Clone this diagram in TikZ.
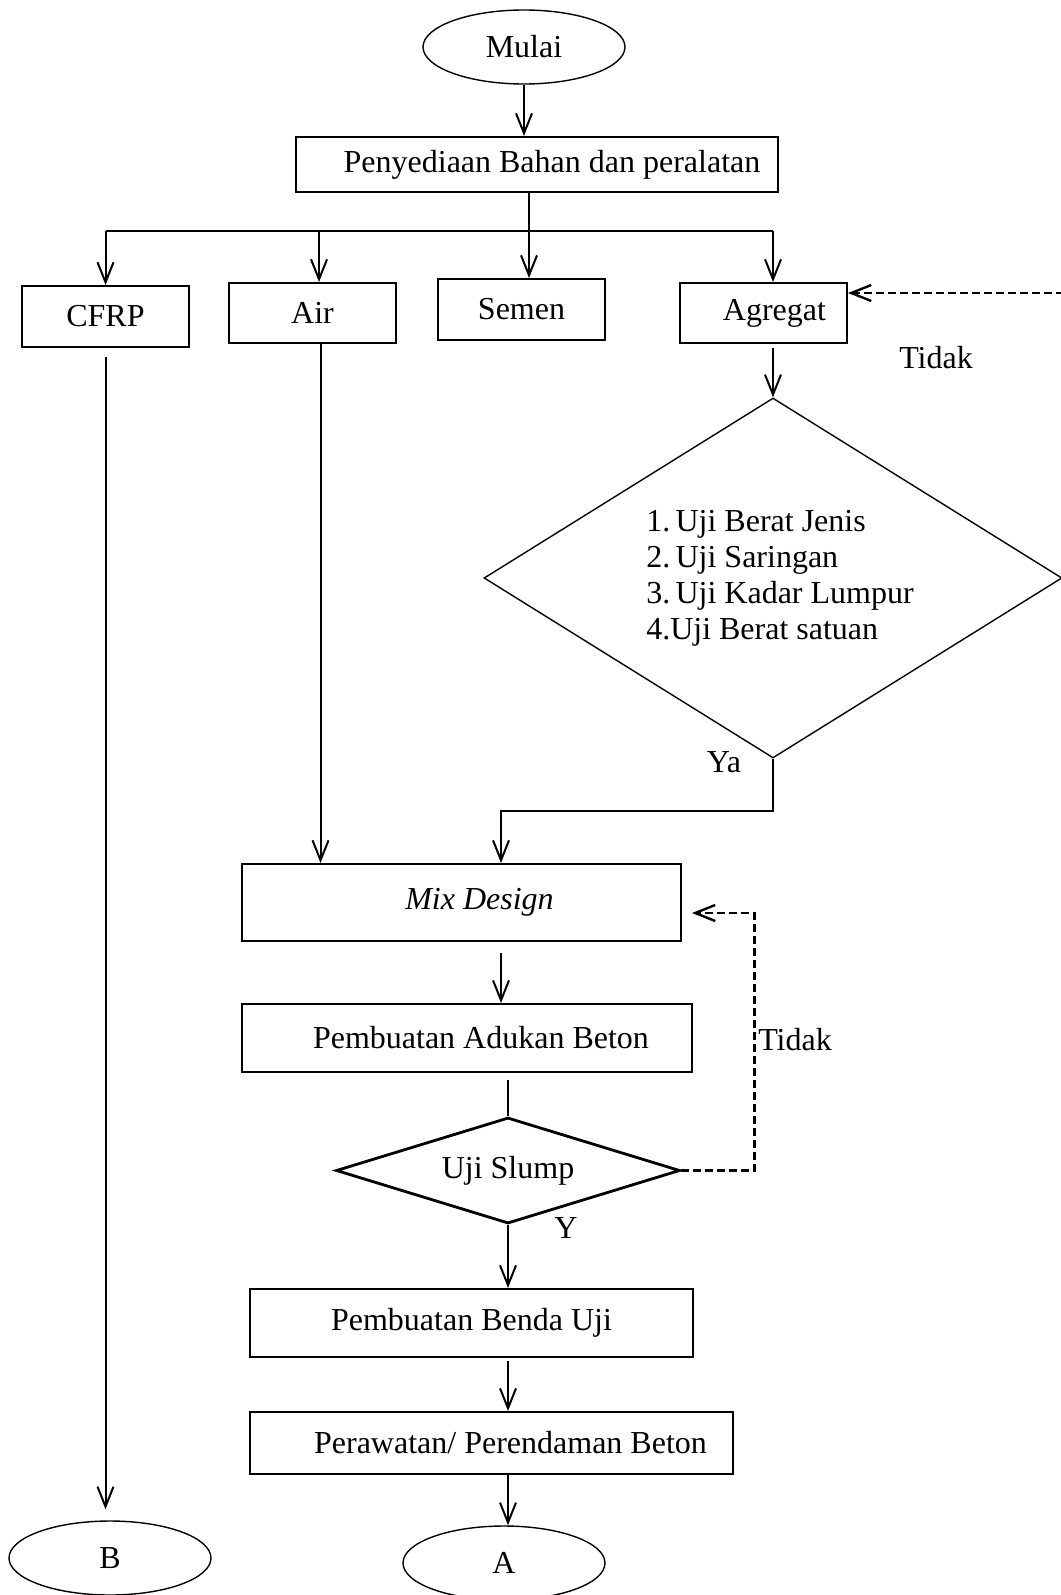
\documentclass[tikz,border=0pt]{standalone}
\usepackage{fontspec}
\setmainfont{Liberation Serif}
\usepackage{tikz}
\usetikzlibrary{arrows.meta}
\usetikzlibrary{shapes.geometric}
\tikzset{
        every node/.style={font=\fontsize{16}{18}\selectfont,inner sep=0pt},
        every path/.style={line width=1pt},
        >={Straight Barb[length=10pt,width=8pt]},
        box/.style={draw,rectangle},
        matbox/.style={box,minimum width=83.5pt,minimum height=30pt},
        oval/.style={draw,ellipse,line width=0.7pt,minimum width=101pt,minimum height=37pt},
        decision/.style={draw,diamond},
        dashline/.style={dash pattern=on 4pt off 2pt,line width=1.2pt},
        }

\begin{document}
\begin{tikzpicture}[x=0.5pt,y=-0.5pt]
			\useasboundingbox (0,0) rectangle (1060,1595);

			% start.....................
			\node [oval] (mulai) at (524,47) {Mulai};

			% bahan box.....................
			\node [box, minimum width=241pt, minimum height=27.5pt] (bahan) at (537,164.5) {\hspace*{15pt}Penyediaan Bahan dan peralatan};

			% material boxes....................
			\node [matbox, minimum height=30.5pt] (cfrp) at (105.5,316.5) {CFRP};
			\node [matbox] (air) at (312.5,313) {Air};
			\node [matbox, minimum height=30.5pt] (semen) at (521.5,309.5) {Semen};
			\node [matbox] (agregat) at (763.5,313) {\hspace*{11pt}Agregat};

			% uji agregat diamond...................
			\node [decision, aspect=1.6, minimum width=289pt, minimum height=180pt, line width=0.7pt, align=left] (ujiagr) at (773,578)
				{\hspace*{7pt}1.\,Uji Berat Jenis\\\hspace*{7pt}2.\,Uji Saringan\\\hspace*{7pt}3.\,Uji Kadar Lumpur\\\hspace*{7pt}4.Uji Berat satuan};

			% mix, adukan, slump....................
			\node [box, minimum width=219.5pt, minimum height=38.5pt] (mix) at (461.5,902.5) {\hspace*{18pt}\textit{Mix Design}};
			\node [box, minimum width=225pt, minimum height=34pt] (adukan) at (467,1038) {\hspace*{14pt}Pembuatan Adukan Beton};
			\node [decision, aspect=3.25, minimum width=172pt, minimum height=53pt, line width=1.4pt] (slump) at (508,1170.5) {Uji Slump};

			% benda uji and perawatan.................
			\node [box, minimum width=221.5pt, minimum height=34pt] (benda) at (471.5,1323) {Pembuatan Benda Uji};
			\node [box, minimum width=241.5pt, minimum height=31pt] (rawat) at (491.5,1443) {\hspace*{19pt}Perawatan/ Perendaman Beton};

			% end points.....................
			\node [oval] (nodeA) at (504,1563) {A};
			\node [oval] (nodeB) at (110,1558) {B};

			% labels..............................
			\node (tidakagr) at (936,358) {Tidak};
			\node (ya) at (724,762) {Ya};
			\node (tidakmix) at (795,1040) {Tidak};
			\node (yes) at (566,1228) {Y};

			% arrows from the top.....................
			\draw [->] (mulai.south) to (mulai.south |- bahan.north);
			\coordinate (trunk) at (529,231);
			\draw (bahan.south -| trunk) to (trunk);
			\draw (cfrp |- trunk) to ([xshift=4.75pt]agregat |- trunk);
			\draw [->] (cfrp |- trunk) to (cfrp.north);
			\draw [->] ([xshift=3.25pt]air |- trunk) to ([xshift=3.25pt]air.north);
			\draw [->] (trunk) to (trunk |- semen.north);
			\draw [->] ([xshift=4.75pt]agregat |- trunk) to ([xshift=4.75pt]agregat.north);

			% cfrp and air down.....................
			\draw [->, shorten <=4.5pt, shorten >=5.5pt] (cfrp.south) to (cfrp.south |- nodeB.north);
			\draw [->] ([xshift=4pt]air.south) to ([xshift=4pt]air.south |- mix.north);

			% agregat test........................
			\draw [->, shorten <=2pt] (agregat.south -| ujiagr.north) to (ujiagr.north);
			\draw [->] (ujiagr.south) to ++(0,52) -| ([xshift=19.75pt]mix.north);
			\draw [dashline, ->] (ujiagr.east) -- ++(20,0) |- ([yshift=10pt]agregat.east);

			% mix design to slump.....................
			\draw [->, shorten <=5.5pt] ([xshift=19.75pt]mix.south) to ([xshift=19.75pt]mix.south |- adukan.north);
			\draw [shorten <=3.5pt] (slump.north |- adukan.south) to (slump.north);
			\draw [dashline, ->] (slump.east) -- ++(73,0) |- ([xshift=5pt,yshift=-5.25pt]mix.east);

			% slump down to A.....................
			\draw [->] (slump.south) to (slump.south |- benda.north);
			\draw [->, shorten <=1.5pt] (slump.south |- benda.south) to (slump.south |- rawat.north);
			\draw [->] (slump.south |- rawat.south) to (slump.south |- nodeA.north);
\end{tikzpicture}
\end{document}
